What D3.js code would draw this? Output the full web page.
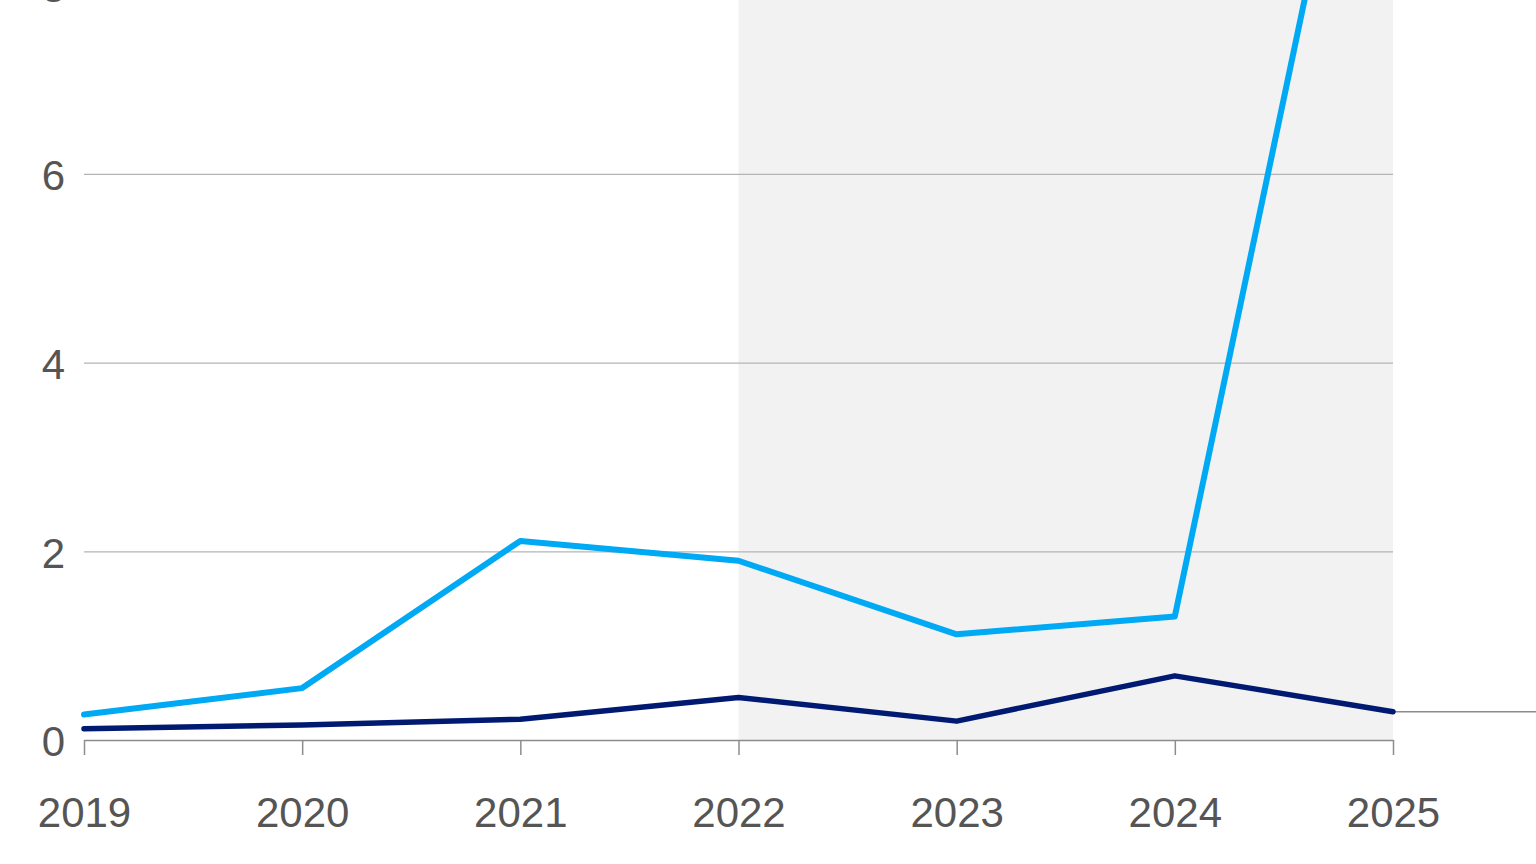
<!DOCTYPE html>
<meta charset="utf-8">
<style>
  html, body { margin: 0; padding: 0; background: #fff; overflow: hidden; }
  svg { display: block; }
  .tick text { font-family: "Liberation Sans", Arial, sans-serif; fill: #555; }
</style>
<script src="https://d3js.org/d3.v7.min.js"></script>
<body>
<svg id="chart" width="1536" height="864"></svg>
<script>
// data
const years = [2019, 2020, 2021, 2022, 2023, 2024, 2025];
const lightSeries = [0.27, 0.55, 2.11, 1.90, 1.12, 1.31, 12.3];
const darkSeries = [0.12, 0.16, 0.22, 0.45, 0.20, 0.68, 0.30];
const yTicks = [0, 2, 4, 6, 8];
const shadeFrom = 2022, shadeTo = 2025;

const width = 1536, height = 864;
const svg = d3.select("#chart");

const x = d3.scaleLinear()
  .domain([2019, 2025])
  .range([84, 1393]);

const y = d3.scaleLinear()
  .domain([0, 8])
  .range([740, 740 - 8 * 94.35]);

// shaded forecast band
svg.append("rect")
  .attr("x", x(shadeFrom))
  .attr("y", -50)
  .attr("width", x(shadeTo) - x(shadeFrom))
  .attr("height", y(0) + 50)
  .attr("fill", "#f2f2f2");

// gridlines + y labels
const yAxis = svg.append("g")
  .attr("transform", `translate(${x(2019)},0)`)
  .call(d3.axisLeft(y).tickValues(yTicks).tickSize(-(x(2025) - x(2019))).tickPadding(19));
yAxis.select(".domain").remove();
yAxis.selectAll(".tick line")
  .attr("stroke", d => d === 0 ? "none" : "#b4b4b4")
  .attr("stroke-width", 1.2);
yAxis.selectAll(".tick text")
  .style("font-size", "42px")
  .attr("dy", "0.38em");

// x axis
const xAxis = svg.append("g")
  .attr("transform", `translate(0,${y(0)})`)
  .call(d3.axisBottom(x).tickValues(years).tickFormat(d3.format("d")).tickSize(15).tickSizeOuter(0).tickPadding(57));
xAxis.select(".domain").attr("stroke", "#8c8c8c").attr("stroke-width", 1.5);
xAxis.selectAll(".tick line").attr("stroke", "#8c8c8c").attr("stroke-width", 1.5);
xAxis.selectAll(".tick text")
  .style("font-size", "42px")
  .attr("dy", "0.36em");

// leader line from last dark point
svg.append("line")
  .attr("x1", x(2025))
  .attr("x2", width)
  .attr("y1", y(darkSeries[darkSeries.length - 1]))
  .attr("y2", y(darkSeries[darkSeries.length - 1]))
  .attr("stroke", "#8c8c8c")
  .attr("stroke-width", 1.5);

const line = d3.line()
  .x((d, i) => x(years[i]))
  .y(d => y(d));

svg.append("path")
  .datum(lightSeries)
  .attr("d", line)
  .attr("fill", "none")
  .attr("stroke", "#00a9f4")
  .attr("stroke-width", 6)
  .attr("stroke-linejoin", "round")
  .attr("stroke-linecap", "round");

svg.append("path")
  .datum(darkSeries)
  .attr("d", line)
  .attr("fill", "none")
  .attr("stroke", "#001a72")
  .attr("stroke-width", 5.5)
  .attr("stroke-linejoin", "round")
  .attr("stroke-linecap", "round");
</script>
</body>
